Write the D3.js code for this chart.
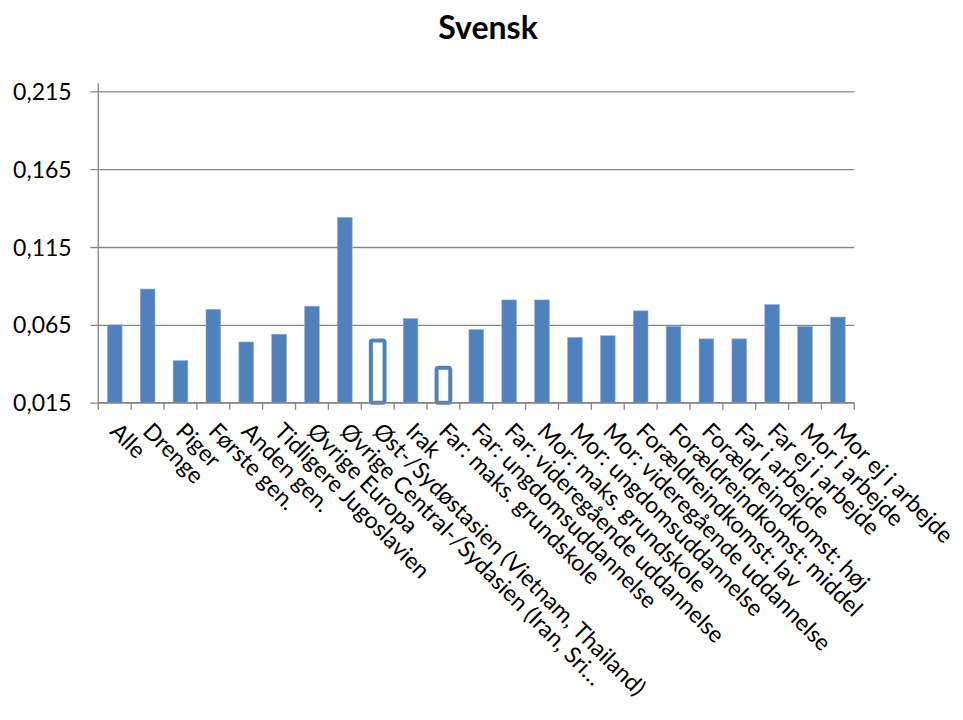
<!DOCTYPE html>
<html>
<head>
<meta charset="utf-8">
<script src="https://cdn.jsdelivr.net/npm/d3@7"></script>
<style>
  html, body { margin: 0; padding: 0; background: #fff; }
  svg { display: block; }
</style>
</head>
<body>
<svg id="chart" width="963" height="720"></svg>
<script>
const title = "Svensk";
const categories = [
  "Alle", "Drenge", "Piger", "Første gen.", "Anden gen.",
  "Tidligere Jugoslavien", "Øvrige Europa",
  "Øvrige Central-/Sydasien (Iran, Sri…",
  "Øst-/Sydøstasien (Vietnam, Thailand)", "Irak",
  "Far: maks. grundskole", "Far: ungdomsuddannelse", "Far: videregående uddannelse",
  "Mor: maks. grundskole", "Mor: ungdomsuddannelse", "Mor: videregående uddannelse",
  "Forældreindkomst: lav", "Forældreindkomst: middel", "Forældreindkomst: høj",
  "Far i arbejde", "Far ej i arbejde", "Mor i arbejde", "Mor ej i arbejde"
];
const values = [
  0.065, 0.088, 0.042, 0.075, 0.054,
  0.059, 0.077,
  0.134,
  0.055, 0.069,
  0.0375, 0.062, 0.081,
  0.081, 0.057, 0.058,
  0.074, 0.064, 0.056,
  0.056, 0.078, 0.064, 0.070
];
const outlinedCategories = ["Øst-/Sydøstasien (Vietnam, Thailand)", "Far: maks. grundskole"];
const yTicks = [0.015, 0.065, 0.115, 0.165, 0.215];

(function () {
const data = categories.map((c, i) => ({ cat: c, v: values[i], outlined: outlinedCategories.includes(c) }));

const svg = d3.select("#chart");
const pLeft = 98.3, pRight = 854.3, pTop = 91.3, pBottom = 402.7;
const fontFam = "Lato, 'Open Sans', sans-serif";
const blue = "#4F81BD";
const grid = "#878787";

const x = d3.scaleBand().domain(categories).range([pLeft, pRight]).paddingInner(0.553).paddingOuter(0.2765);
const y = d3.scaleLinear().domain([0.015, 0.215]).range([pBottom, pTop]);
const fmt = v => d3.format(".3f")(v).replace(".", ",");

// title
svg.append("text")
  .attr("x", 488).attr("y", 39)
  .attr("text-anchor", "middle")
  .attr("font-family", fontFam).attr("font-weight", "bold").attr("font-size", 32)
  .attr("fill", "#000")
  .text(title);

// y axis with gridlines
const yAxis = d3.axisLeft(y).tickValues(yTicks).tickFormat(fmt)
  .tickSizeInner(-(pRight - pLeft)).tickSizeOuter(0).tickPadding(0);
const yg = svg.append("g").attr("transform", `translate(${pLeft},0)`).call(yAxis);
yg.select(".domain").remove();
yg.selectAll(".tick line").attr("x1", -8).attr("stroke", grid).attr("stroke-width", 1.3);
yg.selectAll(".tick text")
  .attr("x", -26.6)
  .attr("dy", "0.35em")
  .attr("font-family", fontFam).attr("font-size", 23).attr("fill", "#000");

// y axis line
svg.append("line")
  .attr("x1", pLeft).attr("x2", pLeft).attr("y1", pTop - 8).attr("y2", pBottom)
  .attr("stroke", grid).attr("stroke-width", 1.3);

// bars
svg.append("g").selectAll("rect").data(data).join("rect")
  .attr("x", d => x(d.cat) + (d.outlined ? 0.5 : 0))
  .attr("width", d => x.bandwidth() - (d.outlined ? 1 : 0))
  .attr("y", d => y(d.v))
  .attr("height", d => pBottom - y(d.v))
  .attr("fill", d => d.outlined ? "#fff" : blue)
  .attr("stroke", d => d.outlined ? blue : "#8FAEDA")
  .attr("stroke-width", d => d.outlined ? 4 : 0.6)
  .attr("rx", d => d.outlined ? 2 : 0);

// x axis
const xAxisG = svg.append("g").attr("transform", `translate(0,${pBottom})`);
xAxisG.append("line").attr("x1", pLeft).attr("x2", pRight).attr("y1", 0).attr("y2", 0)
  .attr("stroke", grid).attr("stroke-width", 1.3);
const boundaries = categories.map(c => x(c) - x.step() * x.paddingOuter()).concat([pRight]);
xAxisG.selectAll("line.tk").data(boundaries).join("line").attr("class", "tk")
  .attr("x1", d => d).attr("x2", d => d).attr("y1", 0).attr("y2", 7)
  .attr("stroke", grid).attr("stroke-width", 1.3);

// rotated labels
xAxisG.selectAll("text.lbl").data(categories).join("text").attr("class", "lbl")
  .attr("transform", c => `translate(${x(c) + x.bandwidth() / 2 - 6},${30}) rotate(45)`)
  .attr("text-anchor", "start")
  .attr("font-family", fontFam).attr("font-size", 23).attr("fill", "#000")
  .text(c => c);
})();
</script>
</body>
</html>
